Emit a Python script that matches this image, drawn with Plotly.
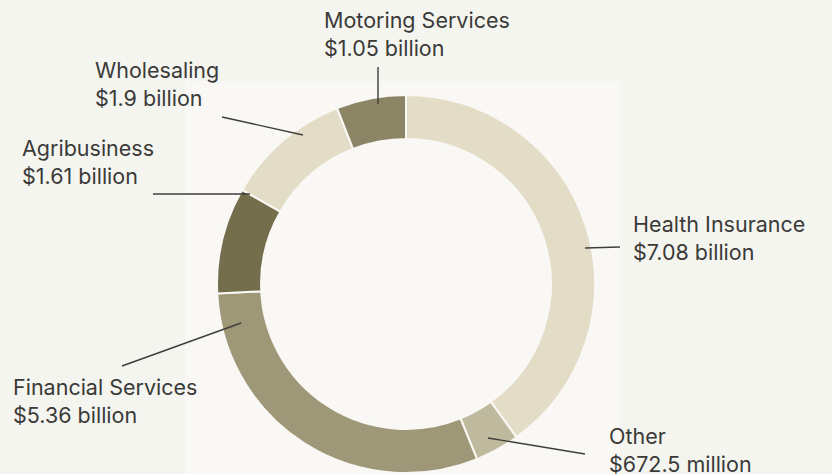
import plotly.graph_objects as go

categories = ["Health Insurance", "Other", "Financial Services", "Agribusiness", "Wholesaling", "Motoring Services"]
values = [7.08, 0.6725, 5.36, 1.61, 1.9, 1.05]
value_labels = ["$7.08 billion", "$672.5 million", "$5.36 billion", "$1.61 billion", "$1.9 billion", "$1.05 billion"]
colors = ["#e3dcc7", "#bfb99d", "#9e9878", "#746e4c", "#e3dcc7", "#8b8565"]

W, H = 832, 474
cx, cy, R = 406, 284, 189

fig = go.Figure()
fig.add_trace(go.Pie(
    labels=categories, values=values, sort=False, direction="clockwise", rotation=0,
    hole=0.767, textinfo="none", hoverinfo="label+value",
    marker=dict(colors=colors, line=dict(color="#f9f8f4", width=2)),
    domain=dict(x=[(cx - R) / W, (cx + R) / W], y=[(H - cy - R) / H, (H - cy + R) / H]),
    showlegend=False,
))

# label positions (pixel): text anchor left x, center y of two-line block; leader line endpoints
label_pos = {
    "Health Insurance": (631, 238, [(585, 248), (620, 247)]),
    "Other": (607, 450, [(488, 438), (585, 454)]),
    "Financial Services": (11, 401, [(122, 366), (241, 323)]),
    "Agribusiness": (20, 162, [(153, 194), (250, 194)]),
    "Wholesaling": (93, 84, [(222, 117), (303, 135)]),
    "Motoring Services": (322, 34, [(378, 67), (378, 104)]),
}

shapes = [dict(type="rect", xref="paper", yref="paper", x0=185 / W, x1=620 / W, y0=0, y1=(H - 81) / H,
               fillcolor="#f9f8f4", line=dict(width=0), layer="below")]
annotations = []
for cat, val in zip(categories, value_labels):
    tx, ty, line = label_pos[cat]
    (x0, y0), (x1, y1) = line
    shapes.append(dict(type="line", xref="paper", yref="paper",
                       x0=x0 / W, y0=(H - y0) / H, x1=x1 / W, y1=(H - y1) / H,
                       line=dict(color="#3d3d3a", width=1.4)))
    annotations.append(dict(xref="paper", yref="paper", x=tx / W, y=(H - ty) / H,
                            xanchor="left", yanchor="middle", align="left", showarrow=False,
                            text=f"{cat}<br>{val}",
                            font=dict(family="Inter, Roboto, sans-serif", size=21.5, color="#3a3a38")))

fig.update_layout(
    width=W, height=H, margin=dict(l=0, r=0, t=0, b=0),
    paper_bgcolor="#f5f5f0", plot_bgcolor="#f5f5f0",
    shapes=shapes, annotations=annotations,
)
fig.write_html("out.html", config={"displayModeBar": False},
               post_script="document.body.style.margin='0';document.body.style.overflow='hidden';")
